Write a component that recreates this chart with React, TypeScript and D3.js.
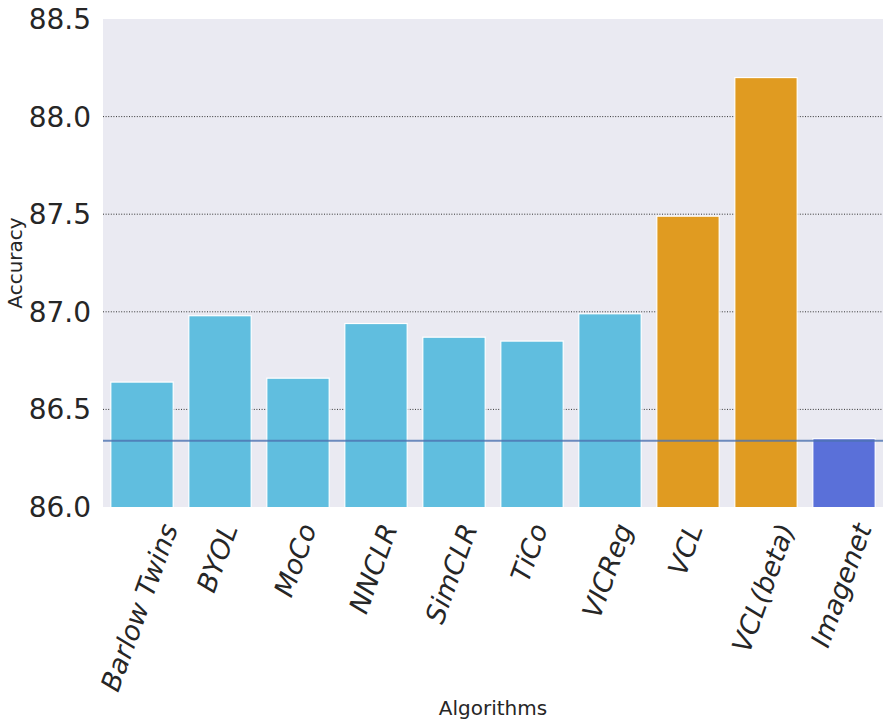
import React, { useEffect, useRef } from 'react';
import * as d3 from 'd3';

const algorithms = ['Barlow Twins', 'BYOL', 'MoCo', 'NNCLR', 'SimCLR', 'TiCo', 'VICReg', 'VCL', 'VCL(beta)', 'Imagenet'];
const accuracy = [86.64, 86.98, 86.66, 86.94, 86.87, 86.85, 86.99, 87.49, 88.2, 86.35];
const groups = ['base', 'base', 'base', 'base', 'base', 'base', 'base', 'ours', 'ours', 'ref'];
const yTicks = [86.0, 86.5, 87.0, 87.5, 88.0, 88.5];
const baseline = 86.34;

const groupColor: Record<string, string> = {
  base: '#60bedf',
  ours: '#e09b21',
  ref: '#5a70d9'
};

const width = 890;
const height = 725;
const margin = { top: 19, right: 7, bottom: 218, left: 103 };

const App: React.FC = () => {
  const svgRef = useRef<SVGSVGElement>(null);

  useEffect(() => {
    if (!svgRef.current) return;
    const svg = d3.select(svgRef.current);
    svg.selectAll('*').remove();

    const innerWidth = width - margin.left - margin.right;
    const innerHeight = height - margin.top - margin.bottom;

    const x = d3.scaleBand().domain(algorithms).range([0, innerWidth]).paddingInner(0.2).paddingOuter(0.1);
    const y = d3.scaleLinear().domain([86.0, 88.5]).range([innerHeight, 0]);

    const g = svg.append('g').attr('transform', `translate(${margin.left},${margin.top})`);

    g.append('defs').append('clipPath').attr('id', 'plot-clip')
      .append('rect').attr('width', innerWidth).attr('height', innerHeight);

    // background
    g.append('rect')
      .attr('width', innerWidth)
      .attr('height', innerHeight)
      .style('fill', '#eaeaf2');

    // dotted grid
    g.selectAll('.grid')
      .data(yTicks.filter(t => t > 86.0 && t < 88.5))
      .enter().append('line')
      .attr('x1', 0)
      .attr('x2', innerWidth)
      .attr('y1', d => y(d))
      .attr('y2', d => y(d))
      .style('stroke', '#333')
      .style('stroke-width', 1)
      .style('stroke-dasharray', '1,1.6');

    // bars
    g.append('g').attr('clip-path', 'url(#plot-clip)')
      .selectAll('rect')
      .data(algorithms)
      .enter().append('rect')
      .attr('x', d => x(d) || 0)
      .attr('y', (_, i) => y(accuracy[i]))
      .attr('width', x.bandwidth())
      .attr('height', (_, i) => innerHeight + 2 - y(accuracy[i]))
      .style('fill', (_, i) => groupColor[groups[i]])
      .style('stroke', '#ffffff')
      .style('stroke-width', 1.2);

    // reference line
    g.append('line')
      .attr('x1', 0)
      .attr('x2', innerWidth)
      .attr('y1', y(baseline))
      .attr('y2', y(baseline))
      .style('stroke', '#4c72b0')
      .style('stroke-opacity', 0.8)
      .style('stroke-width', 2);

    // y tick labels
    g.selectAll('.ytick')
      .data(yTicks)
      .enter().append('text')
      .attr('x', -12)
      .attr('y', d => y(d))
      .attr('dy', '0.36em')
      .attr('text-anchor', 'end')
      .style('font-family', 'DejaVu Sans')
      .style('font-size', '28px')
      .style('fill', '#262626')
      .text(d => d.toFixed(1));

    // x tick labels, rotated 70deg, bbox centred on tick
    const angle = 70 * Math.PI / 180;
    const fs = 27;
    const lineH = fs * 1.1;
    const top = innerHeight + 13;
    algorithms.forEach(name => {
      const cx = (x(name) || 0) + x.bandwidth() / 2;
      const t = g.append('text')
        .attr('text-anchor', 'middle')
        .attr('dy', '0.32em')
        .style('font-family', 'DejaVu Sans')
        .style('font-style', 'oblique')
        .style('font-size', `${fs}px`)
        .style('fill', '#262626')
        .text(name);
      const w = (t.node() as SVGTextElement).getComputedTextLength();
      const bh = w * Math.sin(angle) + lineH * Math.cos(angle);
      t.attr('transform', `translate(${cx - 2},${top + bh / 2}) rotate(-70)`);
    });

    // axis labels
    g.append('text')
      .attr('x', innerWidth / 2)
      .attr('y', 715 - margin.top)
      .attr('text-anchor', 'middle')
      .style('font-family', 'DejaVu Sans')
      .style('font-size', '20px')
      .style('fill', '#262626')
      .text('Algorithms');

    g.append('text')
      .attr('transform', `translate(${22 - margin.left},${innerHeight / 2}) rotate(-90)`)
      .attr('text-anchor', 'middle')
      .style('font-family', 'DejaVu Sans')
      .style('font-size', '20px')
      .style('fill', '#262626')
      .text('Accuracy');
  }, []);

  return (
    <div style={{ position: 'absolute', left: 0, top: 0 }}>
      <svg ref={svgRef} width={width} height={height} style={{ display: 'block', background: '#ffffff' }} />
    </div>
  );
};

export default App;
